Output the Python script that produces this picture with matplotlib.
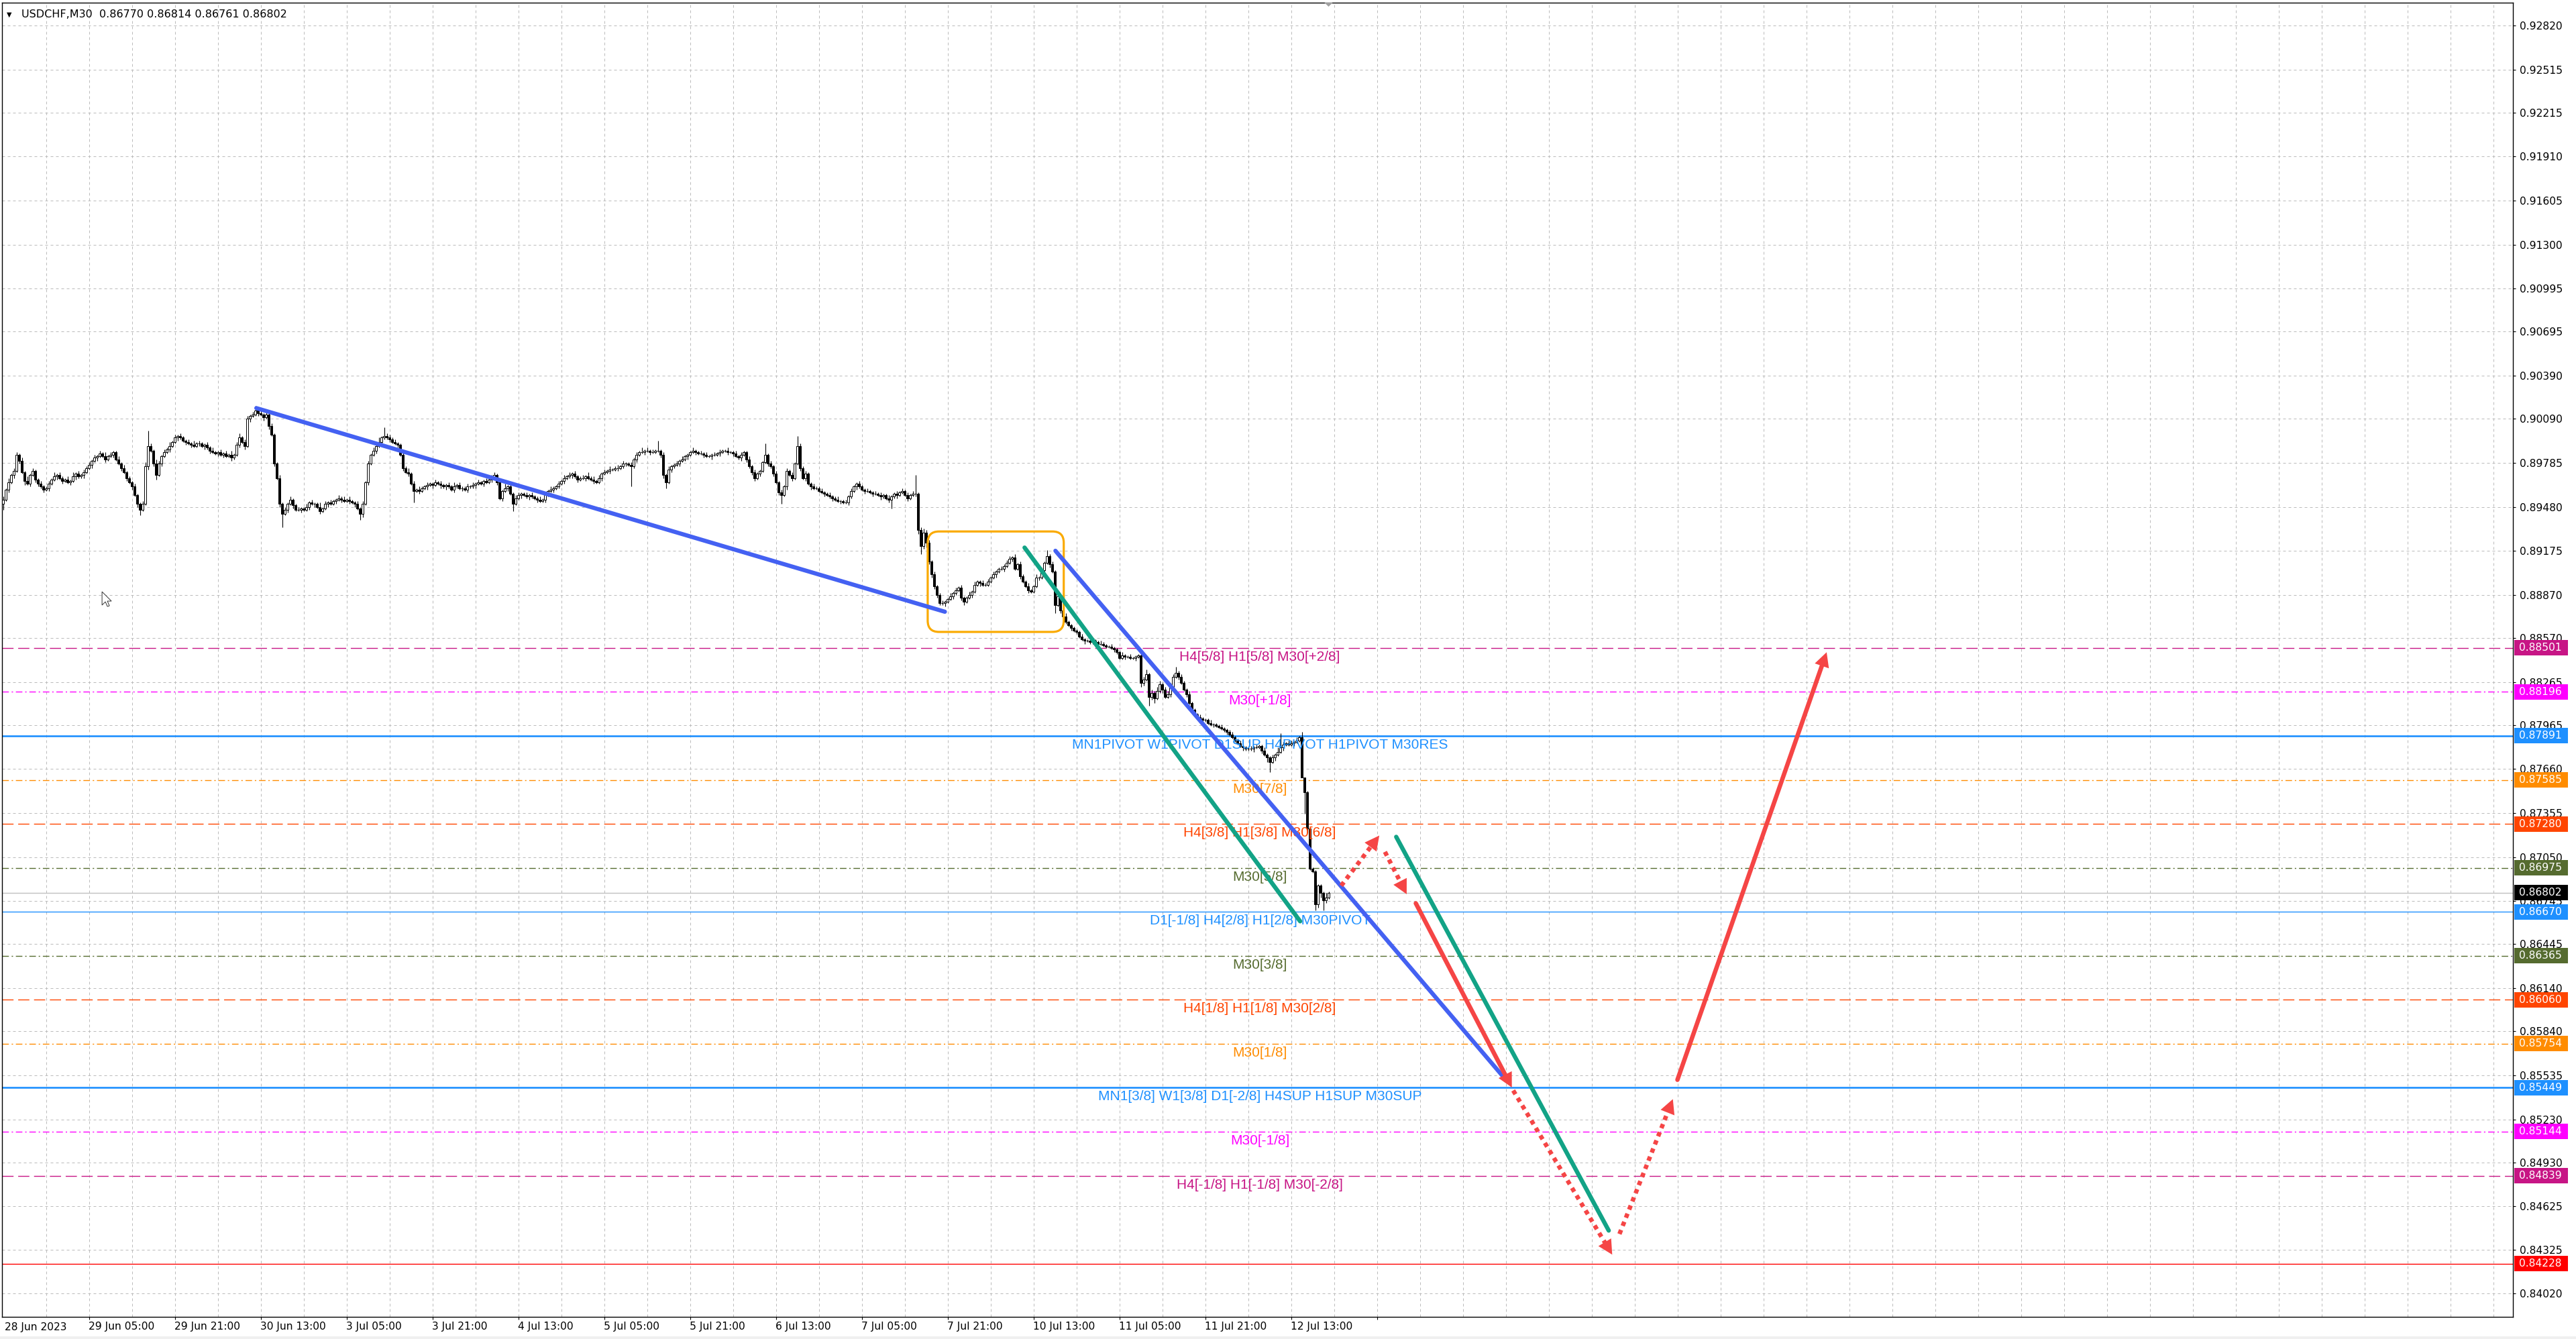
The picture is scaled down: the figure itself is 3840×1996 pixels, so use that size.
import numpy as np
import matplotlib
matplotlib.use("Agg")
import matplotlib.pyplot as plt
import matplotlib.transforms as mtransforms
from matplotlib.patches import Rectangle, FancyBboxPatch, FancyArrowPatch, Polygon

# ---------------- data ----------------
# USDCHF M30 candles, prices in pips (x 0.0001); open of a bar = close of previous bar
first_open = 8950
closes = [
    8953, 8960, 8965, 8970, 8973, 8984, 8980, 8972, 8966, 8964, 8970, 8973, 8967, 8964, 8962, 8960,
    8961, 8964, 8967, 8969, 8970, 8968, 8966, 8967, 8965, 8966, 8969, 8971, 8969, 8970, 8972, 8975,
    8977, 8980, 8982, 8983, 8985, 8983, 8981, 8983, 8984, 8986, 8981, 8978, 8975, 8972, 8968, 8965,
    8962, 8956, 8950, 8946, 8950, 8976, 8990, 8987, 8978, 8970, 8978, 8983, 8986, 8988, 8990, 8993,
    8996, 8997, 8996, 8994, 8993, 8992, 8991, 8990, 8992, 8992, 8990, 8991, 8989, 8987, 8986, 8985,
    8986, 8984, 8985, 8983, 8984, 8982, 8984, 8991, 8996, 8993, 8990, 9009, 9011, 9012, 9015, 9013,
    9012, 9010, 9012, 9004, 8998, 8978, 8968, 8950, 8943, 8946, 8950, 8953, 8949, 8946, 8946, 8947,
    8946, 8948, 8951, 8950, 8950, 8948, 8945, 8947, 8950, 8951, 8950, 8952, 8953, 8954, 8953, 8952,
    8953, 8952, 8951, 8950, 8947, 8943, 8950, 8965, 8978, 8984, 8987, 8990, 8993, 8996, 8997, 8996,
    8995, 8993, 8992, 8991, 8984, 8975, 8972, 8971, 8964, 8959, 8960, 8959, 8961, 8962, 8963, 8964,
    8963, 8965, 8964, 8963, 8962, 8963, 8962, 8960, 8962, 8963, 8961, 8961, 8960, 8962, 8962, 8963,
    8964, 8965, 8964, 8966, 8965, 8967, 8968, 8970, 8965, 8954, 8959, 8961, 8962, 8957, 8950, 8954,
    8956, 8957, 8956, 8955, 8956, 8955, 8954, 8953, 8952, 8953, 8956, 8959, 8960, 8961, 8962, 8964,
    8966, 8968, 8969, 8970, 8971, 8969, 8967, 8968, 8968, 8969, 8968, 8967, 8966, 8965, 8968, 8971,
    8972, 8973, 8974, 8974, 8975, 8975, 8976, 8978, 8978, 8977, 8976, 8981, 8984, 8986, 8986, 8987,
    8987, 8986, 8986, 8987, 8987, 8984, 8970, 8965, 8974, 8976, 8977, 8978, 8980, 8981, 8983, 8984,
    8986, 8987, 8986, 8985, 8985, 8984, 8983, 8983, 8984, 8984, 8985, 8986, 8987, 8987, 8986, 8986,
    8985, 8983, 8982, 8984, 8986, 8981, 8976, 8972, 8968, 8971, 8973, 8979, 8984, 8978, 8976, 8971,
    8965, 8958, 8956, 8962, 8973, 8970, 8968, 8978, 8990, 8975, 8968, 8971, 8964, 8962, 8961, 8961,
    8959, 8958, 8957, 8956, 8955, 8954, 8953, 8952, 8952, 8951, 8951, 8955, 8959, 8962, 8964, 8962,
    8960, 8959, 8959, 8958, 8957, 8957, 8956, 8955, 8956, 8954, 8953, 8955, 8957, 8956, 8958, 8959,
    8956, 8954, 8956, 8957, 8957, 8932, 8921, 8930, 8923, 8910, 8901, 8893, 8887, 8881, 8881, 8882,
    8884, 8886, 8888, 8890, 8892, 8885, 8882, 8885, 8887, 8889, 8894, 8896, 8895, 8894, 8894, 8896,
    8899, 8901, 8903, 8905, 8905, 8907, 8909, 8912, 8913, 8905, 8908, 8900, 8896, 8893, 8890, 8889,
    8893, 8899, 8899, 8904, 8909, 8914, 8908, 8903, 8880, 8886, 8876, 8872, 8868, 8866, 8864, 8862,
    8861, 8858, 8856, 8855, 8855, 8854, 8855, 8854, 8853, 8853, 8852, 8851, 8851, 8850, 8849, 8847,
    8843, 8845, 8844, 8844, 8843, 8843, 8844, 8845, 8826, 8828, 8832, 8816, 8819, 8815, 8820, 8825,
    8821, 8816, 8818, 8823, 8830, 8833, 8830, 8826, 8821, 8818, 8812, 8807, 8804, 8802, 8801, 8800,
    8800, 8798, 8797, 8797, 8796, 8795, 8794, 8793, 8792, 8790, 8788, 8786, 8784, 8782, 8781, 8780,
    8780, 8780, 8781, 8781, 8782, 8779, 8776, 8774, 8771, 8774, 8776, 8778, 8781, 8783, 8784, 8783,
    8784, 8785, 8786, 8788, 8760, 8750, 8725, 8697, 8695, 8672, 8685, 8680, 8675, 8677, 8680,
]
up_wick = [
    2, 1, 3, 1, 2, 2, 1, 2, 1, 3, 1, 2, 1, 1, 2, 1,
    1, 2, 1, 3, 1, 2, 1, 1, 2, 1, 3, 1, 2, 1, 2, 1,
    2, 1, 2, 1, 2, 1, 3, 1, 2, 1, 1, 2, 1, 2, 1, 1,
    1, 2, 1, 1, 2, 3, 11, 2, 1, 3, 2, 1, 2, 1, 3, 1,
    2, 1, 2, 1, 1, 2, 1, 3, 1, 2, 1, 1, 2, 1, 2, 1,
    1, 2, 1, 2, 1, 3, 1, 2, 3, 1, 2, 2, 1, 2, 3, 1,
    2, 1, 2, 1, 2, 1, 1, 2, 1, 2, 1, 2, 1, 1, 2, 1,
    1, 2, 1, 2, 1, 1, 3, 1, 2, 1, 2, 1, 1, 2, 1, 2,
    1, 2, 1, 1, 2, 1, 2, 1, 2, 1, 2, 1, 3, 1, 6, 2,
    2, 1, 2, 1, 1, 2, 1, 3, 1, 2, 1, 2, 1, 1, 2, 1,
    1, 2, 1, 2, 1, 1, 2, 1, 3, 1, 2, 1, 1, 2, 1, 2,
    1, 2, 1, 1, 2, 1, 2, 2, 1, 2, 1, 3, 1, 2, 1, 2,
    2, 1, 1, 2, 1, 2, 1, 1, 2, 1, 2, 1, 2, 1, 1, 2,
    1, 2, 1, 2, 1, 2, 1, 1, 2, 1, 3, 1, 2, 1, 2, 1,
    2, 1, 2, 1, 1, 2, 1, 2, 1, 1, 2, 1, 2, 1, 3, 1,
    2, 1, 2, 1, 7, 1, 2, 1, 2, 1, 1, 2, 1, 2, 1, 1,
    1, 2, 1, 1, 2, 1, 2, 1, 1, 2, 1, 2, 1, 1, 2, 1,
    1, 2, 1, 2, 1, 1, 2, 1, 2, 1, 1, 1, 8, 1, 2, 1,
    2, 1, 2, 1, 2, 1, 2, 1, 7, 2, 1, 2, 1, 1, 2, 1,
    1, 2, 1, 1, 2, 1, 1, 2, 1, 1, 2, 1, 2, 1, 1, 2,
    1, 1, 2, 1, 1, 2, 1, 2, 1, 1, 2, 1, 1, 2, 1, 2,
    1, 2, 1, 2, 13, 1, 2, 3, 2, 2, 1, 2, 1, 1, 2, 1,
    1, 2, 1, 2, 1, 2, 1, 1, 2, 1, 2, 1, 1, 2, 1, 2,
    1, 2, 1, 1, 2, 1, 2, 2, 1, 2, 1, 2, 1, 1, 2, 1,
    1, 2, 1, 2, 1, 4, 1, 2, 1, 2, 1, 1, 2, 1, 1, 1,
    1, 1, 2, 1, 1, 1, 2, 1, 1, 2, 1, 1, 1, 2, 1, 1,
    1, 2, 1, 1, 2, 1, 1, 1, 2, 2, 3, 1, 2, 1, 3, 2,
    1, 2, 2, 3, 2, 4, 1, 2, 1, 1, 2, 1, 1, 1, 2, 1,
    1, 1, 2, 1, 1, 1, 2, 1, 1, 1, 2, 1, 1, 2, 1, 1,
    1, 2, 1, 2, 1, 1, 2, 1, 1, 2, 1, 3, 10, 2, 1, 2,
    2, 1, 2, 1, 4, 0, 1, 1, 1, 1, 1, 1, 1, 3, 1,
]
dn_wick = [
    4, 1, 2, 1, 2, 1, 2, 1, 3, 1, 2, 1, 2, 2, 1, 2,
    1, 2, 1, 1, 2, 1, 2, 1, 1, 2, 1, 2, 1, 1, 2, 1,
    1, 2, 1, 2, 1, 1, 2, 1, 1, 2, 1, 1, 2, 1, 2, 1,
    2, 1, 2, 4, 1, 1, 2, 1, 2, 3, 1, 2, 1, 1, 2, 1,
    1, 2, 1, 1, 2, 1, 2, 1, 1, 2, 1, 2, 1, 2, 1, 1,
    2, 1, 2, 1, 1, 2, 1, 1, 2, 1, 2, 1, 2, 1, 1, 2,
    1, 2, 1, 2, 1, 2, 1, 2, 9, 1, 2, 1, 2, 1, 1, 2,
    1, 1, 2, 1, 2, 1, 2, 1, 1, 2, 1, 1, 2, 1, 2, 1,
    1, 2, 1, 2, 1, 4, 2, 1, 2, 1, 1, 2, 1, 2, 1, 1,
    2, 1, 1, 2, 1, 2, 1, 2, 1, 8, 1, 2, 1, 1, 2, 1,
    2, 1, 1, 2, 1, 2, 1, 1, 2, 1, 1, 2, 1, 2, 1, 1,
    2, 1, 1, 2, 1, 1, 2, 1, 2, 1, 2, 1, 2, 1, 5, 1,
    1, 2, 1, 1, 2, 1, 1, 2, 1, 1, 2, 1, 1, 2, 1, 1,
    1, 2, 1, 1, 2, 1, 2, 1, 1, 2, 1, 1, 2, 1, 1, 2,
    1, 1, 2, 1, 1, 2, 1, 1, 2, 1, 14, 1, 2, 1, 1, 2,
    1, 2, 1, 1, 1, 2, 2, 4, 1, 2, 1, 1, 2, 1, 1, 2,
    1, 1, 2, 1, 1, 2, 1, 1, 2, 1, 1, 2, 1, 1, 2, 1,
    2, 1, 1, 2, 1, 2, 1, 2, 2, 1, 2, 1, 1, 2, 1, 2,
    1, 2, 6, 1, 2, 1, 2, 1, 1, 2, 1, 2, 1, 2, 1, 1,
    1, 1, 2, 1, 1, 2, 1, 1, 2, 1, 1, 2, 1, 1, 2, 1,
    1, 2, 1, 1, 2, 1, 1, 2, 1, 1, 2, 6, 1, 2, 1, 1,
    1, 2, 1, 1, 2, 3, 6, 2, 3, 2, 2, 2, 2, 1, 1, 2,
    1, 1, 2, 1, 1, 2, 2, 1, 1, 2, 1, 1, 2, 1, 1, 1,
    1, 1, 2, 1, 1, 2, 1, 1, 2, 1, 1, 2, 1, 1, 2, 1,
    1, 1, 2, 1, 1, 1, 2, 1, 6, 1, 2, 1, 1, 1, 2, 1,
    1, 1, 1, 2, 1, 1, 1, 1, 2, 1, 1, 1, 1, 1, 2, 1,
    1, 1, 2, 1, 1, 1, 2, 1, 3, 2, 1, 6, 2, 3, 1, 1,
    2, 1, 1, 2, 1, 1, 2, 1, 1, 2, 1, 1, 1, 2, 1, 1,
    1, 1, 1, 2, 1, 1, 1, 1, 2, 1, 1, 1, 1, 1, 2, 1,
    1, 1, 2, 1, 1, 2, 1, 3, 7, 1, 2, 1, 1, 2, 1, 1,
    1, 2, 1, 1, 0, 15, 3, 1, 1, 4, 2, 3, 7, 2, 1,
]

header = "USDCHF,M30  0.86770 0.86814 0.86761 0.86802"
current_price = 0.86802

price_ticks = [0.92820, 0.92515, 0.92215, 0.91910, 0.91605, 0.91300, 0.90995, 0.90695,
               0.90390, 0.90090, 0.89785, 0.89480, 0.89175, 0.88870, 0.88570, 0.88265,
               0.87965, 0.87660, 0.87355, 0.87050, 0.86745, 0.86445, 0.86140, 0.85840,
               0.85535, 0.85230, 0.84930, 0.84625, 0.84325, 0.84020]

time_labels = ["28 Jun 2023", "29 Jun 05:00", "29 Jun 21:00", "30 Jun 13:00", "3 Jul 05:00",
               "3 Jul 21:00", "4 Jul 13:00", "5 Jul 05:00", "5 Jul 21:00", "6 Jul 13:00",
               "7 Jul 05:00", "7 Jul 21:00", "10 Jul 13:00", "11 Jul 05:00", "11 Jul 21:00",
               "12 Jul 13:00", ""]
time_bars = [0, 32, 64, 96, 128, 160, 192, 224, 256, 288, 320, 352, 384, 416, 448, 480, 512]

level_prices = [0.88501, 0.88196, 0.87891, 0.87585, 0.87280, 0.86975, 0.86670,
                0.86365, 0.86060, 0.85754, 0.85449, 0.85144, 0.84839, 0.84228]
level_names = ["H4[5/8] H1[5/8] M30[+2/8]", "M30[+1/8]",
               "MN1PIVOT W1PIVOT D1SUP H4PIVOT H1PIVOT M30RES", "M30[7/8]",
               "H4[3/8] H1[3/8] M30[6/8]", "M30[5/8]", "D1[-1/8] H4[2/8] H1[2/8] M30PIVOT",
               "M30[3/8]", "H4[1/8] H1[1/8] M30[2/8]", "M30[1/8]",
               "MN1[3/8] W1[3/8] D1[-2/8] H4SUP H1SUP M30SUP", "M30[-1/8]",
               "H4[-1/8] H1[-1/8] M30[-2/8]", ""]
label_bar = 468.4

# hand drawn objects: (bar index, price) end points
blue_lines_x = [[94.4, 351.0], [392.2, 558.7]]
blue_lines_y = [[0.90165, 0.88752], [0.89175, 0.85534]]
green_lines_x = [[380.7, 483.4], [519.2, 598.4]]
green_lines_y = [[0.89197, 0.86604], [0.87190, 0.84458]]
solid_arrows_x = [[526.5, 562.3], [624.0, 679.6]]
solid_arrows_y = [[0.86729, 0.85451], [0.85504, 0.88471]]
dotted_arrows_x = [[498.7, 512.9], [515.0, 523.1], [562.8, 599.7], [602.4, 622.3]]
dotted_arrows_y = [[0.86851, 0.87199], [0.87086, 0.86792], [0.85430, 0.84291], [0.84434, 0.85370]]
box_x = [344.6, 395.3]
box_y = [0.88612, 0.89309]
cursor_bar, cursor_price = 36.9, 0.88891

# ---------------- styles ----------------
level_colors = ["#C71585", "#FF00FF", "#1E90FF", "#FF8C00", "#FF4500", "#556B2F", "#1E90FF",
                "#556B2F", "#FF4500", "#FF8C00", "#1E90FF", "#FF00FF", "#C71585", "#FF0000"]
DASH = (0, (12, 5))
DDOT = (0, (7, 3, 1.5, 3))
level_ls = [DASH, DDOT, "-", DDOT, DASH, DDOT, "-", DDOT, DASH, DDOT, "-", DDOT, DASH, "-"]
level_lw = [1, 1, 1.9, 1, 1, 1, 1, 1, 1, 1, 1.9, 1, 1, 1]
BLUE = "#4461F2"
GREEN = "#12A386"
RED = "#F54545"
ORANGE = "#FAAA00"

W, H = 3840, 1996
L, R, T, B = 3, 3746, 4, 1963      # plot frame in pixels
BAR_PX, X0 = 4.0, 4.5              # bar spacing and position of bar 0
PPX = 0.00004655                   # price per pixel
REF_P, REF_Y = 0.92820, 38

plt.rcParams['font.family'] = ['DejaVu Sans']
fig = plt.figure(figsize=(W / 100, H / 100), dpi=100)
fig.patch.set_facecolor("white")
ax = fig.add_axes([L / W, 1 - B / H, (R - L) / W, (B - T) / H])
ax.set_xlim((L - X0) / BAR_PX, (R - X0) / BAR_PX)
ax.set_ylim(REF_P - (B - REF_Y) * PPX, REF_P + (REF_Y - T) * PPX)
for s in ax.spines.values():
    s.set_color("black")
    s.set_linewidth(1.0)

# grid
for b in range(16, 936, 16):
    ax.axvline(b, color="#BBBBBB", lw=0.72, ls=(0, (4, 4)), zorder=0)
for p in price_ticks:
    ax.axhline(p, color="#BBBBBB", lw=0.72, ls=(0, (4, 4)), zorder=0)

# levels
for p, col, ls, lw in zip(level_prices, level_colors, level_ls, level_lw):
    ax.axhline(p, color=col, ls=ls, lw=lw, zorder=1)
ax.axhline(current_price, color="#C0C0C0", lw=1.0, zorder=1)

# candles
c = np.array(closes) / 1e4
o = np.concatenate([[first_open / 1e4], c[:-1]])
hi = np.maximum(o, c) + np.array(up_wick) / 1e4
lo = np.minimum(o, c) - np.array(dn_wick) / 1e4
idx = np.arange(len(c))
ax.vlines(idx, lo, hi, color="black", lw=0.8, zorder=3)
bull = c >= o
ax.bar(idx[bull], (c - o)[bull], bottom=o[bull], width=0.78, color="white",
       edgecolor="black", lw=0.7, zorder=4)
ax.bar(idx[~bull], (o - c)[~bull], bottom=c[~bull], width=0.78, color="black",
       edgecolor="black", lw=0.7, zorder=4)

# level labels
for p, name, col in zip(level_prices, level_names, level_colors):
    if name:
        ax.annotate(name, (label_bar, p), xytext=(0, -4), textcoords="offset pixels",
                    ha="center", va="top", color=col, fontsize=15,
                    family=["Liberation Sans", "DejaVu Sans"], zorder=5)

# orange box
ax.add_patch(FancyBboxPatch((box_x[0], box_y[0]), box_x[1] - box_x[0], box_y[1] - box_y[0],
                            boxstyle="round,pad=0,rounding_size=4.2",
                            mutation_aspect=BAR_PX * PPX, ec=ORANGE, fc="none", lw=2.3, zorder=6))

# trend lines
for xs, ys in zip(blue_lines_x, blue_lines_y):
    ax.plot(xs, ys, color=BLUE, lw=4.5, solid_capstyle="round", zorder=7)
for xs, ys in zip(green_lines_x, green_lines_y):
    ax.plot(xs, ys, color=GREEN, lw=4.6, solid_capstyle="round", zorder=7)


def arrow(xs, ys, dotted):
    p0 = ax.transData.transform((xs[0], ys[0]))
    p1 = ax.transData.transform((xs[1], ys[1]))
    u = (p1 - p0) / np.hypot(*(p1 - p0))
    xe, ye = ax.transData.inverted().transform(p1 - u * 17)
    ax.plot([xs[0], xe], [ys[0], ye], color=RED, lw=4.7,
            ls=(0, (1, 1)) if dotted else "-",
            solid_capstyle="round", dash_capstyle="butt", zorder=8)
    ax.add_patch(FancyArrowPatch((xs[0], ys[0]), (xs[1], ys[1]),
                                 arrowstyle="-|>,head_length=1.55,head_width=0.8",
                                 mutation_scale=10, color=RED, lw=0,
                                 shrinkA=0, shrinkB=0, zorder=9))


for xs, ys in zip(solid_arrows_x, solid_arrows_y):
    arrow(xs, ys, False)
for xs, ys in zip(dotted_arrows_x, dotted_arrows_y):
    arrow(xs, ys, True)

# mouse cursor
cur = np.array([(0, 0), (0, 20), (5, 15), (8, 22), (11, 21), (8, 14), (14, 14)], float)
ax.add_patch(Polygon(np.c_[cursor_bar + cur[:, 0] / BAR_PX, cursor_price - cur[:, 1] * PPX],
                     closed=True, fc="white", ec="#333333", lw=0.7, zorder=10))

# chart shift marker at top
trans_xa = mtransforms.blended_transform_factory(ax.transData, ax.transAxes)
ax.add_patch(Polygon([(len(c) - 2.5, 1.0), (len(c) + 0.5, 1.0), (len(c) - 1, 0.997)],
                     closed=True, fc="#A0A0A0", ec="none", transform=trans_xa,
                     clip_on=False, zorder=10))

# price axis
ax.yaxis.tick_right()
ax.set_yticks(price_ticks)
ax.set_yticklabels([f"{p:.5f}" for p in price_ticks])
ax.tick_params(axis="y", length=3, width=0.8, pad=4, labelsize=11.2, colors="black")

trans_ay = mtransforms.blended_transform_factory(ax.transAxes, ax.transData)
bx = (3748 - L) / (R - L)
bw = 80 / (R - L)
bh = 23 * PPX
box_prices = level_prices + [current_price]
box_colors = level_colors + ["black"]
for p, col in zip(box_prices, box_colors):
    ax.add_patch(Rectangle((bx, p - bh / 2), bw, bh, transform=trans_ay, fc=col, ec="none",
                           clip_on=False, zorder=20))
    ax.text((3755 - L) / (R - L), p, f"{p:.5f}", transform=trans_ay, color="white",
            ha="left", va="center", fontsize=11.2, clip_on=False, zorder=21)

# time axis
ax.set_xticks(time_bars[1:])
ax.set_xticklabels(time_labels[1:], ha="left")
ax.tick_params(axis="x", length=3, width=0.8, pad=2, labelsize=11.2, colors="black")
ax.text(time_bars[0] + 0.6, -0.004, time_labels[0], transform=trans_xa, ha="left", va="top",
        fontsize=11.2, clip_on=False)

# header
fig.text(10 / W, 1 - 22 / H, "\u25BC", fontsize=7, ha="left", va="center")
fig.text(32 / W, 1 - 22 / H, header, fontsize=11.5, ha="left", va="center")

# window edge
fig.patches.append(Rectangle((0, 0), 1, 4 / H, transform=fig.transFigure, fc="#F0F0F0",
                             ec="none", zorder=-1))

fig.savefig("out.png", dpi=100, facecolor="white")
